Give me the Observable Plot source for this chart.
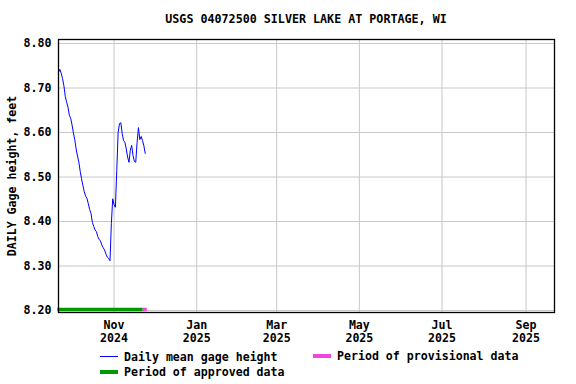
<!DOCTYPE html>
<html>
<head>
<meta charset="utf-8">
<script src="https://cdn.jsdelivr.net/npm/d3@7"></script>
<script src="https://cdn.jsdelivr.net/npm/@observablehq/plot@0.6"></script>
<style>
  html, body { margin: 0; padding: 0; background: white; }
  #wrap { position: relative; width: 576px; height: 384px; font-family: "DejaVu Sans Mono", monospace; font-weight: bold; font-size: 11.6px; color: black; }
  #title { position: absolute; left: 58px; width: 496px; top: 12px; text-align: center; font-size: 11.7px; line-height: 14px; }
  .sw { position: absolute; }
  .lt { position: absolute; line-height: 14px; white-space: pre; }
</style>
</head>
<body>
<div id="wrap">
  <div id="title">USGS 04072500 SILVER LAKE AT PORTAGE, WI</div>
</div>
<script>
// ---- data ----
const startDate = "2024-09-21";
const gageHeight = [
  8.735, 8.742, 8.733, 8.721, 8.705, 8.681, 8.668, 8.657, 8.639, 8.632,
  8.617, 8.599, 8.584, 8.563, 8.547, 8.534, 8.513, 8.496, 8.481, 8.467,
  8.457, 8.452, 8.440, 8.427, 8.418, 8.398, 8.389, 8.381, 8.377, 8.366,
  8.360, 8.356, 8.347, 8.341, 8.336, 8.327, 8.320, 8.317, 8.312, 8.395,
  8.451, 8.438, 8.432, 8.515, 8.600, 8.620, 8.622, 8.598, 8.582, 8.578,
  8.563, 8.545, 8.533, 8.560, 8.571, 8.548, 8.535, 8.533, 8.578, 8.611,
  8.584, 8.591, 8.582, 8.570, 8.553
];
const periodNames = ["approved", "provisional"];
const periodStart = ["2024-09-20T12:00Z", "2024-11-22T12:00Z"];
const periodEnd = ["2024-11-22T12:00Z", "2024-11-25T12:00Z"];
const xDomain = ["2024-09-21", "2025-09-22"];
const xTicks = ["2024-11-01", "2025-01-01", "2025-03-01", "2025-05-01", "2025-07-01", "2025-09-01"];
const xMonthLabels = ["Nov", "Jan", "Mar", "May", "Jul", "Sep"];
const xYearLabels = ["2024", "2025", "2025", "2025", "2025", "2025"];
const yTicks = [8.2, 8.3, 8.4, 8.5, 8.6, 8.7, 8.8];
const yTickLabels = ["8.20", "8.30", "8.40", "8.50", "8.60", "8.70", "8.80"];
const yDomain = [8.1955, 8.809];
const yLabel = "DAILY Gage height, feet";
const legendLabels = ["Daily mean gage height", "Period of provisional data", "Period of approved data"];

// ---- build ----
const t0 = new Date(startDate);
const series = gageHeight.map((v, i) => ({date: d3.utcDay.offset(t0, i), value: v}));
const periods = periodNames.map((n, i) => ({type: n, x1: new Date(periodStart[i]), x2: new Date(periodEnd[i])}));
const tickDates = xTicks.map(s => new Date(s));
const monthMap = new Map(tickDates.map((d, i) => [+d, xMonthLabels[i]]));
const yearMap = new Map(tickDates.map((d, i) => [+d, xYearLabels[i]]));
const yLabMap = new Map(yTicks.map((v, i) => [v, yTickLabels[i]]));
const gridColor = "#c8c8c8";
const colors = {line: "#0000ff", approved: "#009900", provisional: "#f046dc"};

const chart = Plot.plot({
  width: 576,
  height: 384,
  marginTop: 39,
  marginBottom: 72,
  marginLeft: 58,
  marginRight: 22,
  style: {fontFamily: "DejaVu Sans Mono", fontSize: "11.6px", fontWeight: "bold", color: "black", background: "transparent"},
  x: {type: "utc", domain: xDomain.map(s => new Date(s))},
  y: {domain: yDomain},
  marks: [
    Plot.gridX(tickDates, {stroke: gridColor, strokeOpacity: 1, strokeWidth: 1}),
    Plot.gridY(yTicks, {stroke: gridColor, strokeOpacity: 1, strokeWidth: 1}),
    Plot.axisX({ticks: tickDates, tickSize: 0, tickPadding: 8, tickFormat: d => monthMap.get(+d), label: null}),
    Plot.axisX({ticks: tickDates, tickSize: 0, tickPadding: 21, tickFormat: d => yearMap.get(+d), label: null}),
    Plot.axisY({ticks: yTicks, tickSize: 0, tickPadding: 7, tickFormat: v => yLabMap.get(v) ?? d3.format(".2f")(v), label: null}),
    Plot.text([yLabel], {frameAnchor: "left", text: d => d, rotate: -90, dx: -46, textAnchor: "middle"}),
    Plot.ruleY(periods, {y: 8.2, x1: "x1", x2: "x2", stroke: d => colors[d.type], strokeWidth: 3.5, dy: -1, strokeLinecap: "butt"}),
    Plot.line(series, {x: "date", y: "value", stroke: colors.line, strokeWidth: 1}),
    Plot.frame({stroke: "black", strokeWidth: 1.3})
  ]
});
chart.style.position = "absolute";
chart.style.left = "0px";
chart.style.top = "0px";
const wrap = document.getElementById("wrap");
wrap.insertBefore(chart, wrap.firstChild);

// ---- legend ----
function swatch(left, top, h, color) {
  const d = document.createElement("div");
  d.className = "sw";
  d.style.left = left + "px"; d.style.top = top + "px";
  d.style.width = "18px"; d.style.height = h + "px";
  d.style.background = color;
  wrap.appendChild(d);
}
function label(left, top, text) {
  const d = document.createElement("div");
  d.className = "lt";
  d.style.left = left + "px"; d.style.top = top + "px";
  d.textContent = text;
  wrap.appendChild(d);
}
swatch(100, 356, 1, colors.line);
label(124, 349.5, legendLabels[0]);
swatch(313, 354, 4, colors.provisional);
label(337, 349, legendLabels[1]);
swatch(100, 370, 4, colors.approved);
label(124, 365, legendLabels[2]);
</script>
</body>
</html>
